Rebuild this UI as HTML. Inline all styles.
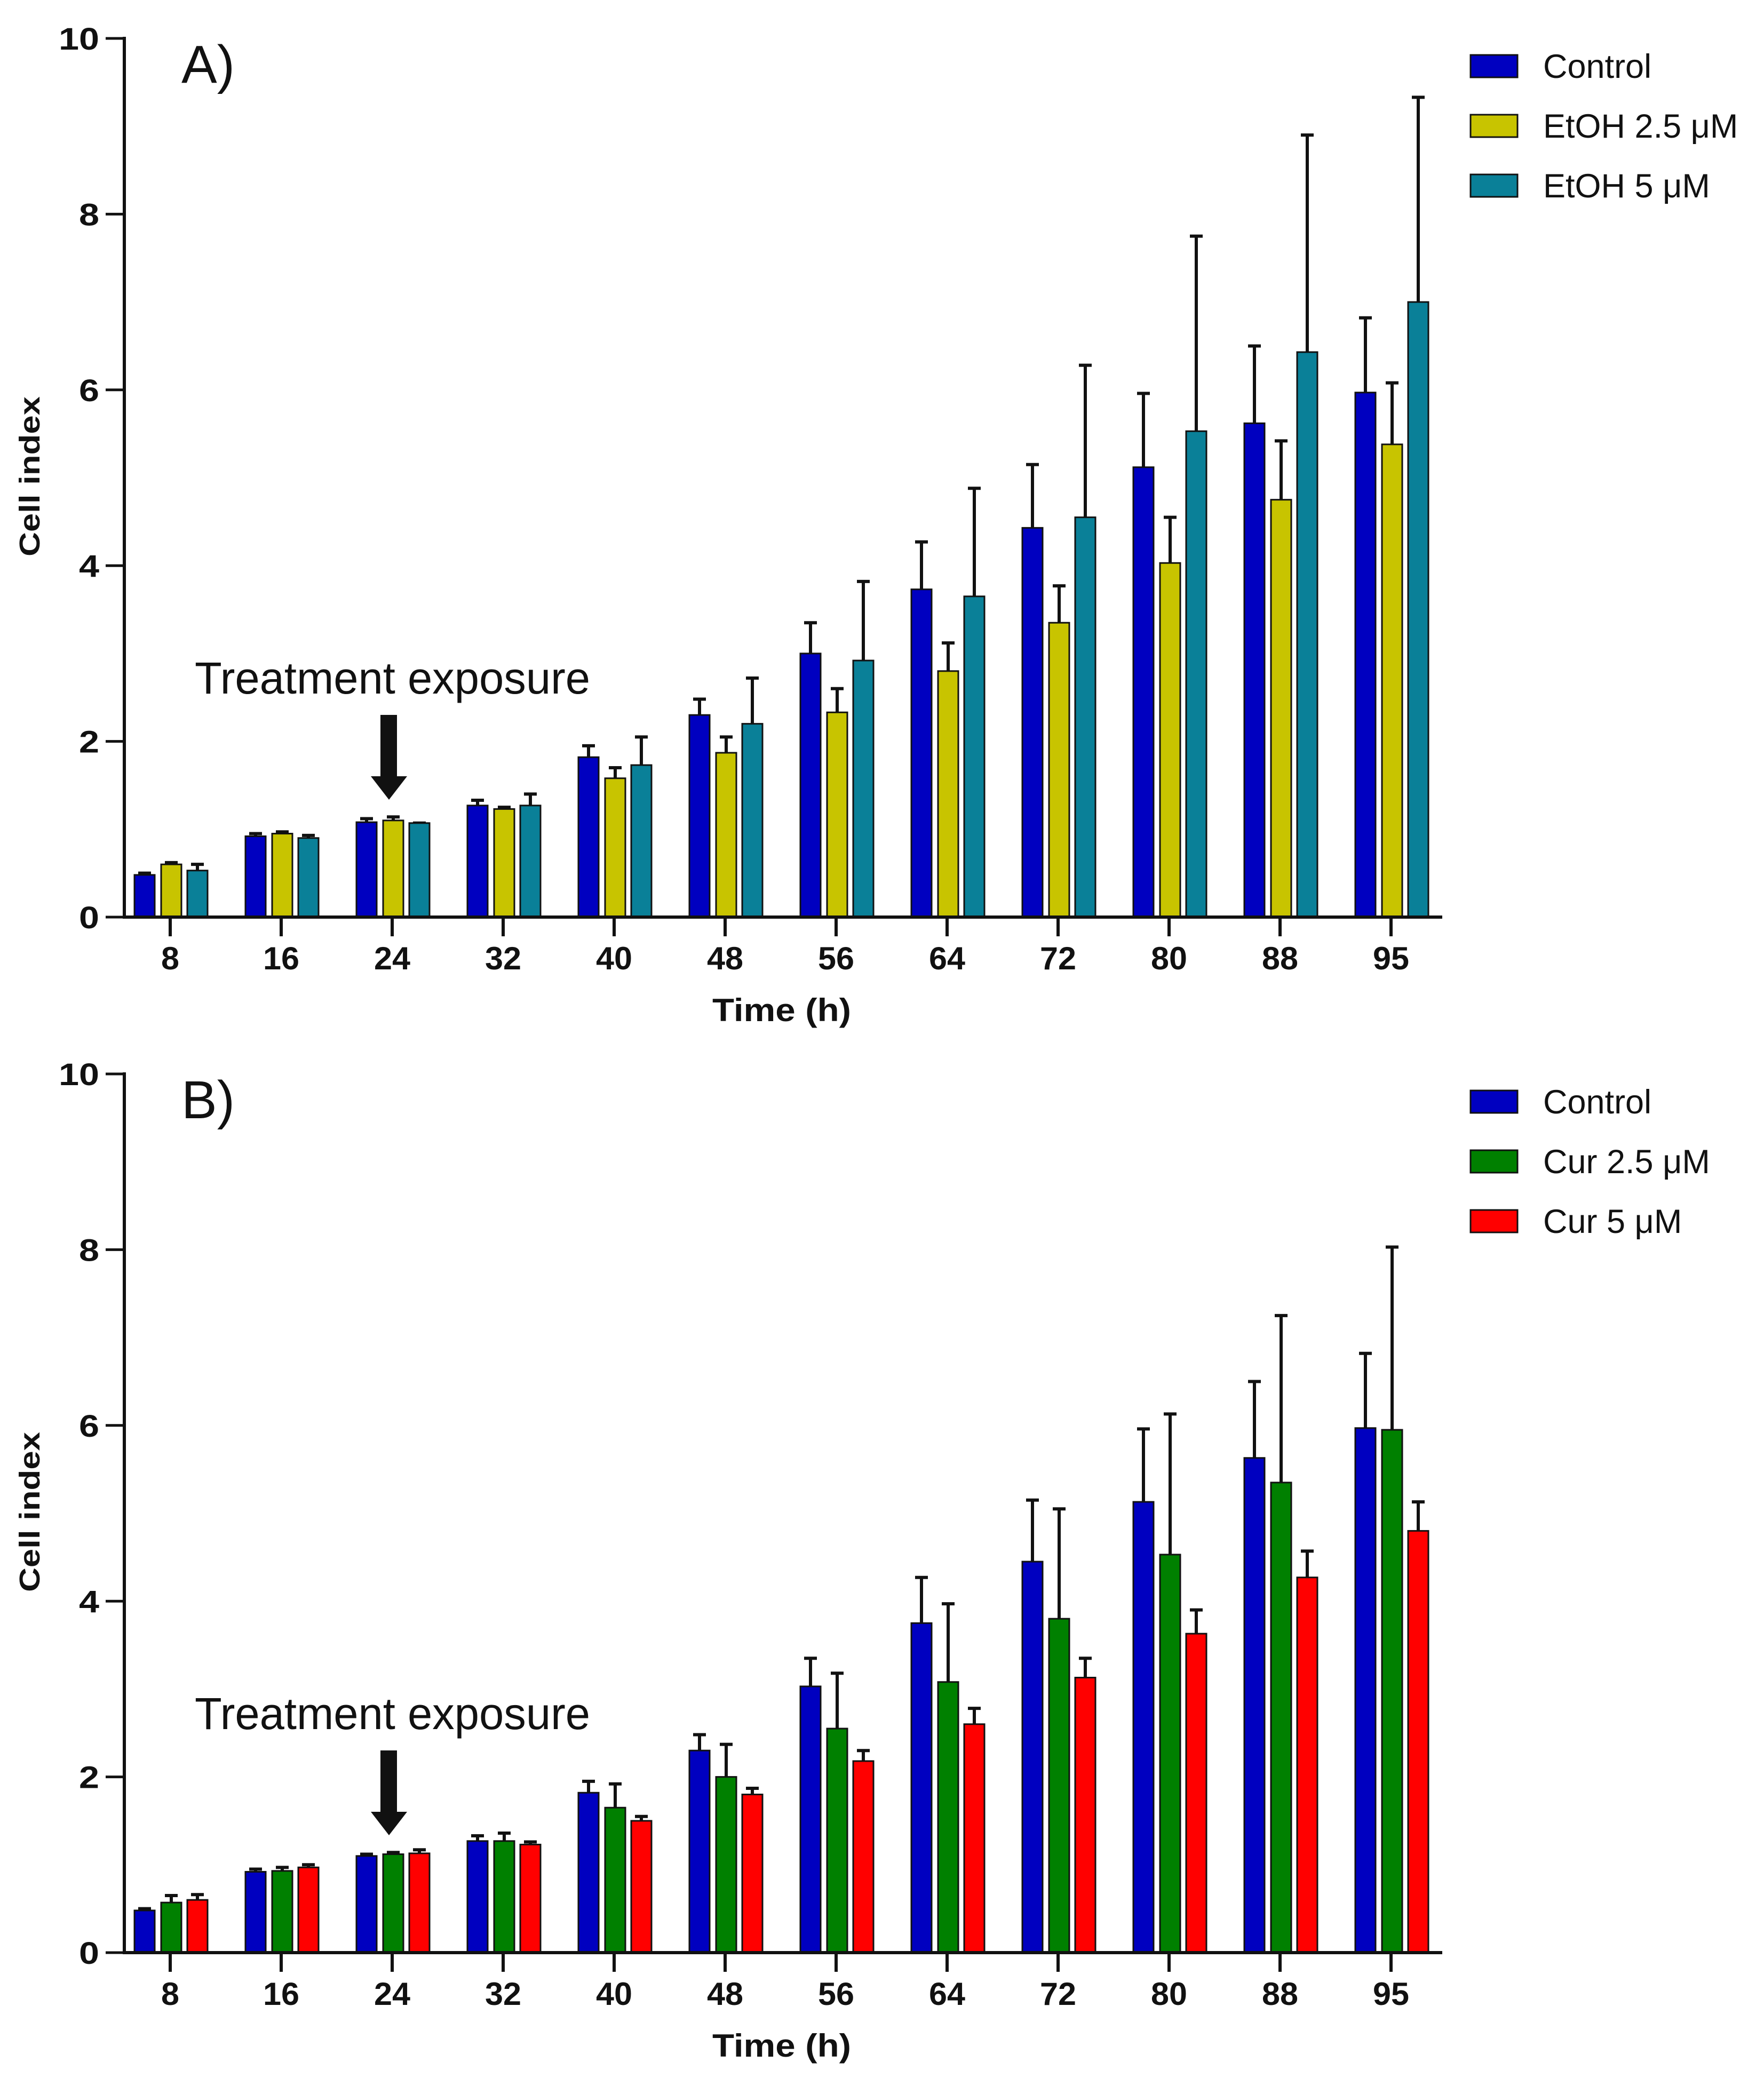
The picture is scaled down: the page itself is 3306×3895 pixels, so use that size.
<!DOCTYPE html>
<html><head><meta charset="utf-8"><style>
html,body{margin:0;padding:0;background:#fff;}
svg{display:block;}
text{font-family:"Liberation Sans",Arial,sans-serif;}
</style></head><body>
<svg id="chart" width="3306" height="3895" viewBox="0 0 3306 3895" xmlns="http://www.w3.org/2000/svg"></svg>
<script>
const categories = ["8","16","24","32","40","48","56","64","72","80","88","95"];
const yTicks = [0,2,4,6,8,10];
const seriesNamesA = ["Control","EtOH 2.5 μM","EtOH 5 μM"];
const seriesNamesB = ["Control","Cur 2.5 μM","Cur 5 μM"];
const controlA = [0.48,0.92,1.08,1.27,1.82,2.3,3.0,3.73,4.43,5.12,5.62,5.97];
const controlAErr = [0.5,0.95,1.12,1.33,1.95,2.48,3.35,4.27,5.15,5.96,6.5,6.82];
const etoh25 = [0.6,0.95,1.1,1.23,1.58,1.87,2.33,2.8,3.35,4.03,4.75,5.38];
const etoh25Err = [0.62,0.97,1.14,1.25,1.7,2.05,2.6,3.12,3.77,4.55,5.42,6.08];
const etoh5 = [0.53,0.9,1.07,1.27,1.73,2.2,2.92,3.65,4.55,5.53,6.43,7.0];
const etoh5Err = [0.6,0.93,1.07,1.4,2.05,2.72,3.82,4.88,6.28,7.75,8.9,9.33];
const controlB = [0.48,0.92,1.1,1.27,1.82,2.3,3.03,3.75,4.45,5.13,5.63,5.97];
const controlBErr = [0.5,0.95,1.12,1.33,1.95,2.48,3.35,4.27,5.15,5.96,6.5,6.82];
const cur25 = [0.57,0.93,1.12,1.27,1.65,2.0,2.55,3.08,3.8,4.53,5.35,5.95];
const cur25Err = [0.65,0.97,1.14,1.36,1.92,2.37,3.18,3.97,5.05,6.13,7.25,8.03];
const cur5 = [0.6,0.97,1.13,1.23,1.5,1.8,2.18,2.6,3.13,3.63,4.27,4.8];
const cur5Err = [0.66,1.0,1.17,1.26,1.55,1.87,2.3,2.78,3.35,3.9,4.57,5.13];

const NS="http://www.w3.org/2000/svg";
const svg=document.getElementById('chart');
function mk(tag,attrs,parent,txt){const e=document.createElementNS(NS,tag);for(const k in attrs)e.setAttribute(k,attrs[k]);if(txt!==undefined)e.textContent=txt;(parent||svg).appendChild(e);return e;}

function drawPanel(off,label,names,colors,vals,errs,key){
  const g=mk('g',{});
  
  
  const y0=1719+off, unit=164.7;
  const yS=v=>y0-v*unit;
  const xS=i=>319+i*208;
  const offs=[-48,2,51];
  for(let s=0;s<3;s++){
    for(let i=0;i<categories.length;i++){
      const cx=xS(i)+offs[s];
      const top=yS(vals[s][i]);
      const et=yS(errs[s][i]);
      const ln=mk('line',{x1:cx,x2:cx,y1:top,y2:et,stroke:'#111','stroke-width':6},g);
      
      
      const cap=mk('line',{x1:cx-12,x2:cx+12,y1:et,y2:et,stroke:'#111','stroke-width':6},g);
      
      
      const r=mk('rect',{x:cx-19,y:top,width:38,height:y0-top,fill:colors[s],stroke:'#111','stroke-width':3},g);
      
      
    }
  }
  const ya=mk('line',{x1:233,x2:233,y1:yS(10)-3,y2:y0+3,stroke:'#111','stroke-width':6},g);
  
  
  const xa=mk('line',{x1:230,x2:2703,y1:y0,y2:y0,stroke:'#111','stroke-width':6},g);
  
  
  yTicks.forEach(t=>{
    mk('line',{x1:198,x2:233,y1:yS(t),y2:yS(t),stroke:'#111','stroke-width':5},g);
    const tl=mk('text',{x:186,y:yS(t)+21,'text-anchor':'end','font-size':58,'font-weight':'bold',fill:'#111',textLength:(String(t).length*38),lengthAdjust:'spacingAndGlyphs'},g,String(t));
    
    
  });
  categories.forEach((c,i)=>{
    mk('line',{x1:xS(i),x2:xS(i),y1:y0,y2:y0+36,stroke:'#111','stroke-width':6},g);
    const tl=mk('text',{x:xS(i),y:y0+98,'text-anchor':'middle','font-size':60,'font-weight':'bold',fill:'#111',textLength:(c.length*34),lengthAdjust:'spacingAndGlyphs'},g,c);
    
    
  });
  const xt=mk('text',{x:1465,y:1914+off,'text-anchor':'middle','font-size':60,'font-weight':'bold',fill:'#111',textLength:260,lengthAdjust:'spacingAndGlyphs'},g,'Time (h)');
  
  
  const yt=mk('text',{x:0,y:0,'text-anchor':'middle','font-size':54,'font-weight':'bold',fill:'#111',transform:`translate(74,${893+off}) rotate(-90)`,textLength:300,lengthAdjust:'spacingAndGlyphs'},g,'Cell index');
  
  
  const pl=mk('text',{x:340,y:155+off,'font-size':100,fill:'#111'},g,label);
  
  
  const te=mk('text',{x:365,y:1300+off,'font-size':84,fill:'#111',textLength:741,lengthAdjust:'spacingAndGlyphs'},g,'Treatment exposure');
  
  
  const ar=mk('polygon',{points:`713,${1340+off} 744,${1340+off} 744,${1455+off} 763,${1455+off} 729,${1499+off} 695,${1455+off} 713,${1455+off}`,fill:'#111'},g);
  
  
  const ly=[124,236,348];
  names.forEach((n,s)=>{
    const sw=mk('rect',{x:2756,y:ly[s]+off-21,width:88,height:42,fill:colors[s],stroke:'#111','stroke-width':3},g);
    
    
    const lt=mk('text',{x:2892,y:ly[s]+off+22,'font-size':63,fill:'#111'},g,n);
    
    
  });
}
drawPanel(0,'A)',seriesNamesA,['#0000c0','#c8c400','#0a8098'],[controlA,etoh25,etoh5],[controlAErr,etoh25Err,etoh5Err],'a');
drawPanel(1941,'B)',seriesNamesB,['#0000c0','#008000','#ff0000'],[controlB,cur25,cur5],[controlBErr,cur25Err,cur5Err],'b');
</script>
</body></html>
